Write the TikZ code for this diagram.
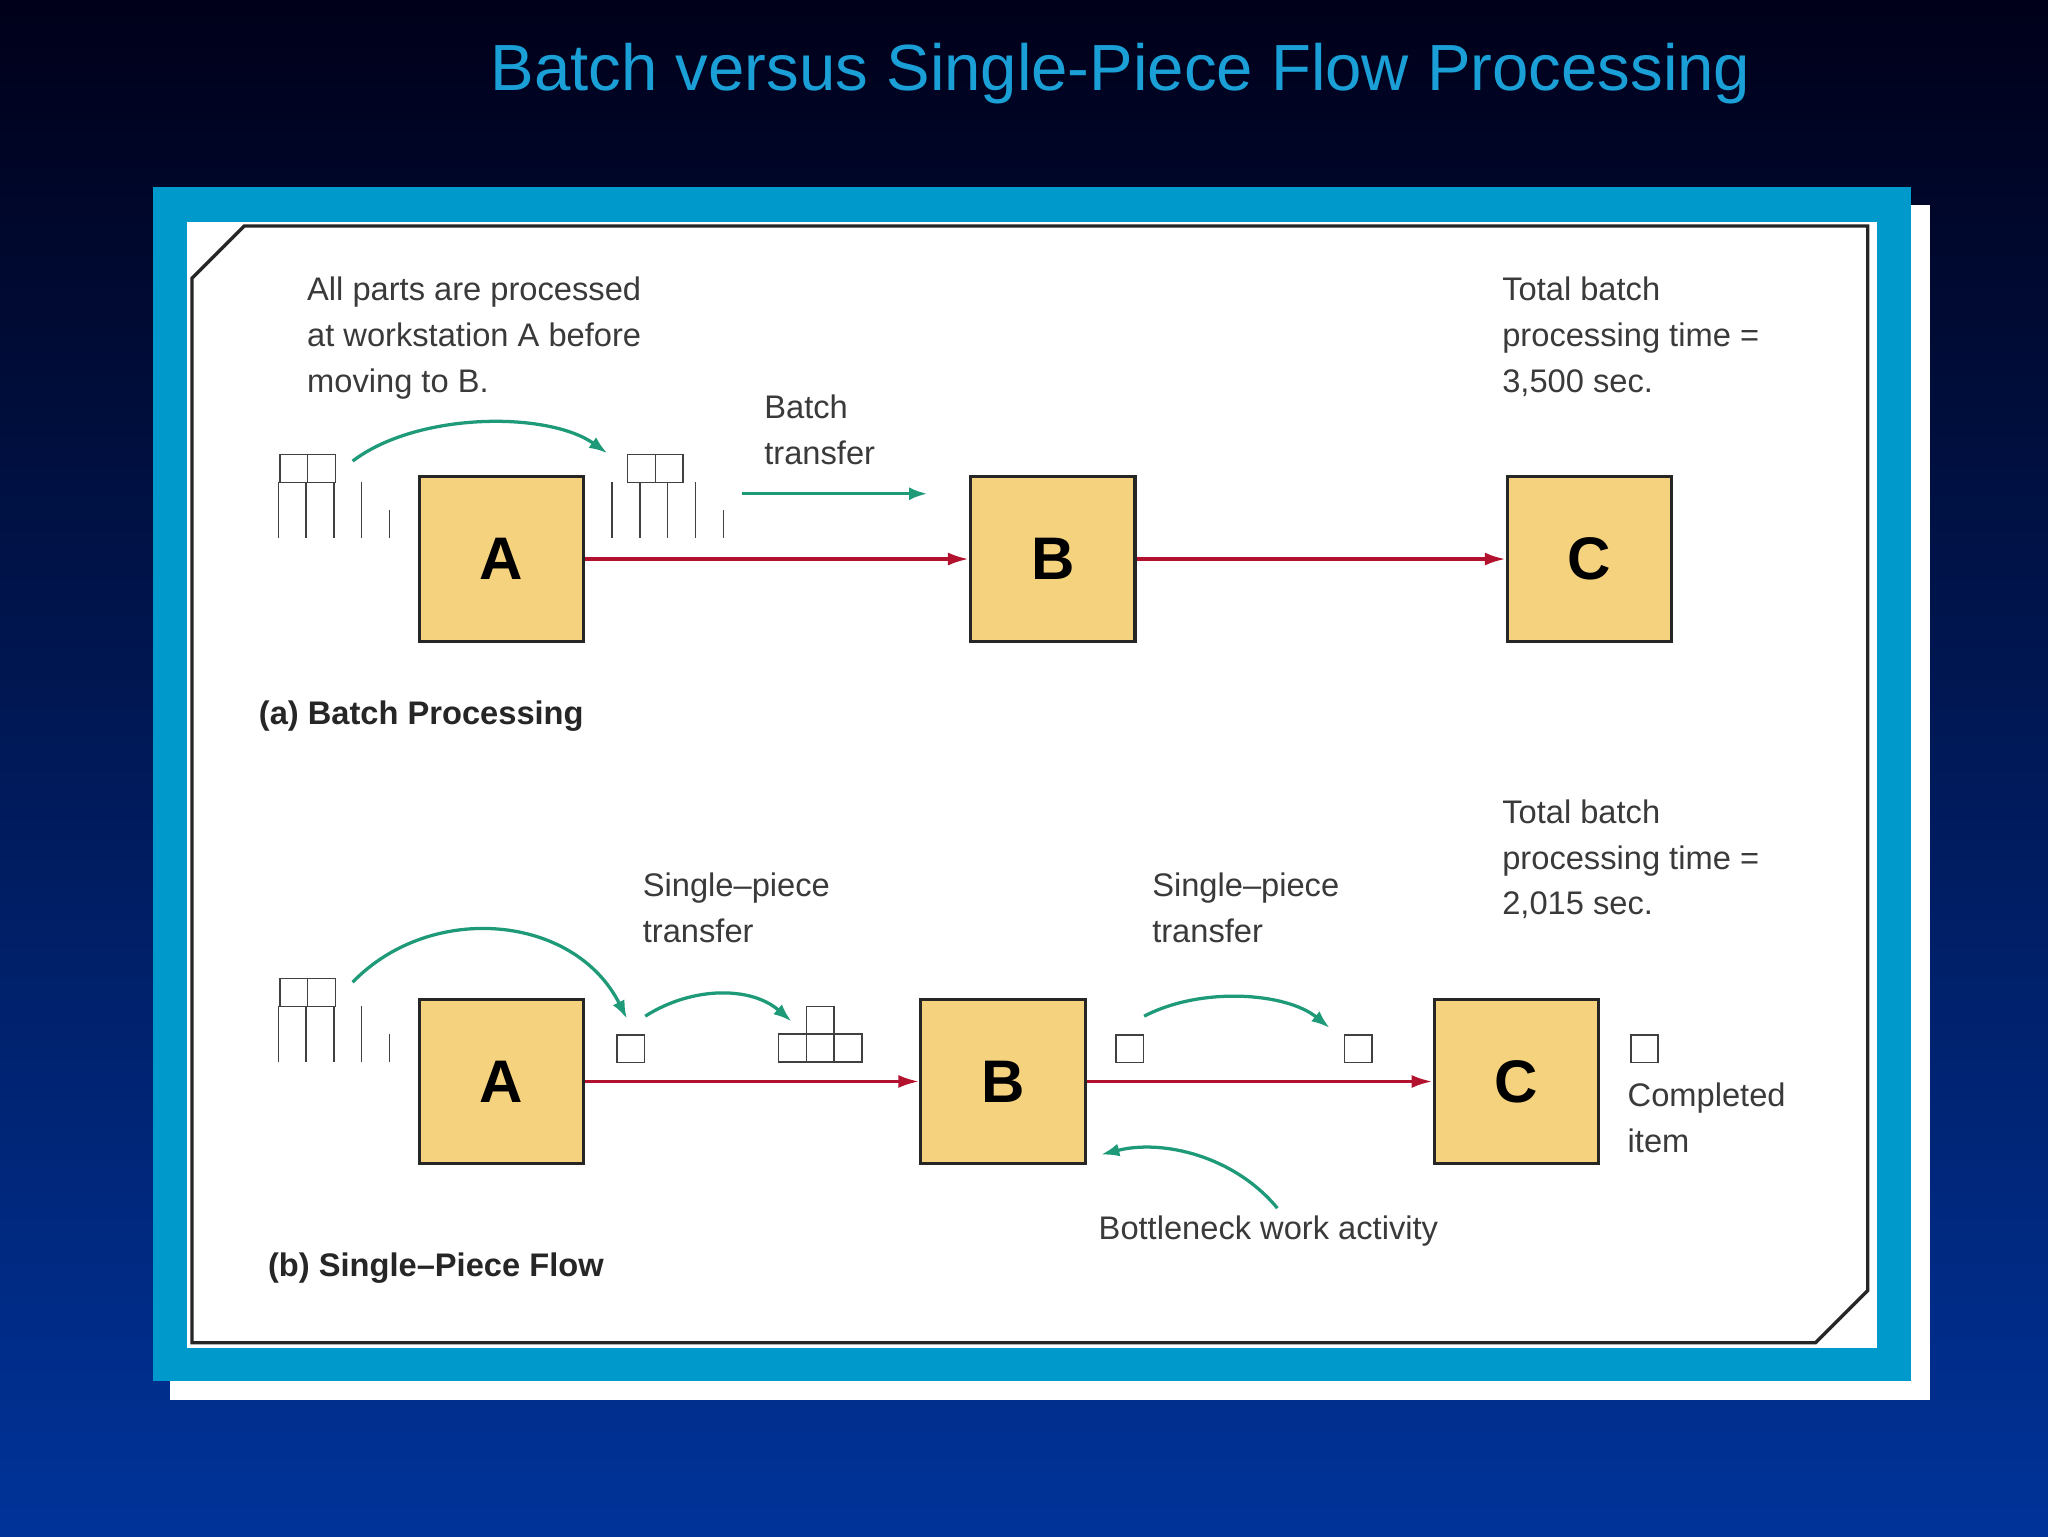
\documentclass[tikz,border=0pt]{standalone}
\usepackage{fontspec}
\setmainfont{Liberation Sans}
\usetikzlibrary{arrows.meta}
\definecolor{ttl}{HTML}{1A9FD6}
\definecolor{frm}{HTML}{0099CC}
\definecolor{boxf}{HTML}{F5D27E}
\definecolor{redl}{HTML}{B3122E}
\definecolor{grn}{HTML}{1E9A78}
\definecolor{txt}{HTML}{3A3A3A}
\begin{document}
\begin{tikzpicture}[x=1pt,y=-1pt,
 box/.style={draw=black!85,line width=2.5pt,fill=boxf,minimum width=126pt,minimum height=126pt,inner sep=0pt,font=\fontsize{46}{46}\selectfont\bfseries},
 lbl/.style={text=txt,font=\fontsize{25}{35}\selectfont,align=left,anchor=north west,inner sep=0pt},
 hd/.style={text=black!85,font=\fontsize{25}{30}\selectfont\bfseries,anchor=west,inner sep=0pt},
 red/.style={draw=redl,line width=2.5pt,-{Latex[length=16pt,width=10pt]}},
 gr/.style={draw=grn,line width=2.5pt,-{Latex[length=14pt,width=10pt]}},
 cell/.style={draw=black!75,line width=1pt},
 sq/.style={draw=black!75,line width=1.2pt,fill=white}]
\useasboundingbox (0,0) rectangle (1568,1176);
\shade[top color=black!90!blue, bottom color={rgb,255:red,0;green,51;blue,153}] (0,0) rectangle (1568,1176);
\fill[white] (130,157) rectangle (1478,1072);
\fill[frm] (117,143) rectangle (1463,1057);
\fill[white] (143,170) rectangle (1437,1032);
\draw[black!85,line width=2.5pt] (187,173) -- (1430,173) -- (1430,988) -- (1390,1028) -- (147,1028) -- (147,213) -- cycle;
\node[text=ttl,font=\fontsize{50}{50}\selectfont] (title) at (858,56) {Batch versus Single-Piece Flow Processing};
% stacks
\newcommand\bigstack[2]{%
 \draw[cell] (#1,#2) grid[step=21.3] ++(106.5,-21.3);
 \draw[cell] (#1,#2-21.3) grid[step=21.3] ++(85.2,-21.3);
 \draw[cell] (#1+21.3,#2-42.6) rectangle ++(42.6,-21.3) (#1+42.6,#2-42.6) -- ++(0,-21.3);}
\bigstack{193}{412}
\bigstack{459}{412}
\bigstack{193}{813}
\draw[cell] (596,813) rectangle ++(64,-21.3) (617.3,813) -- ++(0,-21.3) (638.6,813) -- ++(0,-21.3);
\draw[cell] (617.3,791.7) rectangle ++(21.3,-21.3);
% boxes a
\node[box] (A1) at (384,428) {A};
\node[box] (B1) at (806,428) {B};
\node[box] (C1) at (1217,428) {C};
\draw[red] (A1.east) -- (B1.west);
\draw[red] (B1.east) -- (C1.west);
\coordinate (g1s) at (270,353); \coordinate (g1e) at (465,347);
\draw[gr] (g1s) .. controls (320,315) and (420,315) .. (g1e);
\coordinate (g2s) at (568,378); \coordinate (g2e) at (710,378);
\draw[gr] (g2s) -- (g2e);
\node[lbl] (t1) at (235,212) {All parts are processed\\at workstation A before\\moving to B.};
\node[lbl] (t2) at (585,302) {Batch\\transfer};
\node[lbl] (t3) at (1150,212) {Total batch\\processing time =\\3,500 sec.};
\node[hd] (ha) at (198,548) {(a) Batch Processing};
% b
\node[box] (A2) at (384,828) {A};
\node[box] (B2) at (768,828) {B};
\node[box] (C2) at (1161,828) {C};
\draw[red] (A2.east) -- (B2.west);
\draw[red] (B2.east) -- (C2.west);
\node[sq,minimum size=21pt,inner sep=0pt] (s1) at (483,803) {};
\node[sq,minimum size=21pt,inner sep=0pt] (s2) at (865,803) {};
\node[sq,minimum size=21pt,inner sep=0pt] (s3) at (1040,803) {};
\node[sq,minimum size=21pt,inner sep=0pt] (s4) at (1259,803) {};
\coordinate (g3s) at (270,752); \coordinate (g3e) at (480,780);
\draw[gr] (g3s) .. controls (330,690) and (440,700) .. (g3e);
\coordinate (g4s) at (494,778); \coordinate (g4e) at (606,782);
\draw[gr] (g4s) .. controls (530,755) and (575,755) .. (g4e);
\coordinate (g5s) at (876,778); \coordinate (g5e) at (1018,787);
\draw[gr] (g5s) .. controls (920,755) and (985,760) .. (g5e);
\coordinate (g6s) at (978,925); \coordinate (g6e) at (843,884);
\draw[gr] (g6s) .. controls (945,885) and (890,872) .. (g6e);
\node[lbl] (t4) at (492,668) {Single--piece\\transfer};
\node[lbl] (t5) at (882,668) {Single--piece\\transfer};
\node[lbl] (t6) at (1150,612) {Total batch\\processing time =\\2,015 sec.};
\node[lbl] (t7) at (1246,829) {Completed\\item};
\node[lbl] (t8) at (841,931) {Bottleneck work activity};
\node[hd] (hb) at (205,971) {(b) Single--Piece Flow};
\end{tikzpicture}
\end{document}
